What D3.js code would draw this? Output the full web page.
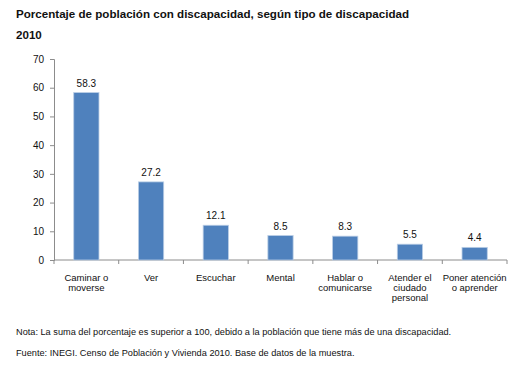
<!DOCTYPE html>
<html>
<head>
<meta charset="utf-8">
<script src="https://cdn.jsdelivr.net/npm/d3@7"></script>
<style>
  body { margin: 0; background: #fff; }
  svg { font-family: "Liberation Sans", Arial, sans-serif; }
</style>
</head>
<body>
<div id="chart"></div>
<script>
// valores
const categorias = [
  ["Caminar o", "moverse"],
  ["Ver"],
  ["Escuchar"],
  ["Mental"],
  ["Hablar o", "comunicarse"],
  ["Atender el", "ciudado", "personal"],
  ["Poner atención", "o aprender"]
];
const valores = [58.3, 27.2, 12.1, 8.5, 8.3, 5.5, 4.4];
const ticksY = [0, 10, 20, 30, 40, 50, 60, 70];

const width = 524, height = 368;
const plotLeft = 54, plotRight = 507, plotTop = 59, plotBottom = 260;

const svg = d3.select("#chart").append("svg")
  .attr("width", width)
  .attr("height", height);

svg.append("text")
  .attr("x", 16).attr("y", 18)
  .attr("font-size", 11.6).attr("font-weight", "bold").attr("fill", "#111")
  .text("Porcentaje de población con discapacidad, según tipo de discapacidad");
svg.append("text")
  .attr("x", 16).attr("y", 39)
  .attr("font-size", 11.6).attr("font-weight", "bold").attr("fill", "#111")
  .text("2010");

const x = d3.scaleBand()
  .domain(d3.range(valores.length))
  .range([plotLeft, plotRight])
  .paddingInner(0.61)
  .paddingOuter(0.305);

const y = d3.scaleLinear().domain([0, 70]).range([plotBottom, plotTop]);

// eje y
const yAxis = svg.append("g")
  .attr("transform", `translate(${plotLeft},0)`)
  .call(d3.axisLeft(y).tickValues(ticksY).tickSize(4).tickPadding(6));
yAxis.select(".domain").attr("stroke", "#8c8c8c");
yAxis.selectAll(".tick line").attr("stroke", "#8c8c8c");
yAxis.selectAll("text").attr("font-size", 10).attr("fill", "#111")
  .attr("font-family", "Liberation Sans, Arial, sans-serif");

// eje x con marcas entre categorías
const xg = svg.append("g");
xg.append("line")
  .attr("x1", plotLeft).attr("x2", plotRight)
  .attr("y1", plotBottom).attr("y2", plotBottom)
  .attr("stroke", "#8c8c8c");
const step = x.step();
xg.selectAll("line.tk")
  .data(d3.range(valores.length + 1))
  .enter().append("line")
  .attr("class", "tk")
  .attr("x1", i => plotLeft + i * step).attr("x2", i => plotLeft + i * step)
  .attr("y1", plotBottom).attr("y2", plotBottom + 4)
  .attr("stroke", "#8c8c8c");

// barras
svg.selectAll("rect.bar")
  .data(valores)
  .enter().append("rect")
  .attr("class", "bar")
  .attr("x", (d, i) => x(i))
  .attr("y", d => y(d))
  .attr("width", x.bandwidth())
  .attr("height", d => plotBottom - y(d))
  .attr("fill", "#4f81bd")
  .attr("stroke", "#b9cde5")
  .attr("stroke-width", 0.8);

// etiquetas de valor
svg.selectAll("text.val")
  .data(valores)
  .enter().append("text")
  .attr("class", "val")
  .attr("x", (d, i) => x(i) + x.bandwidth() / 2)
  .attr("y", d => y(d) - 6)
  .attr("text-anchor", "middle")
  .attr("font-size", 10).attr("fill", "#111")
  .text(d => d.toFixed(1));

// etiquetas de categoría
const cats = svg.selectAll("text.cat")
  .data(categorias)
  .enter().append("text")
  .attr("class", "cat")
  .attr("text-anchor", "middle")
  .attr("font-size", 9.5).attr("fill", "#111");
cats.each(function(lines, i) {
  d3.select(this).selectAll("tspan")
    .data(lines)
    .enter().append("tspan")
    .attr("x", x(i) + x.bandwidth() / 2)
    .attr("y", (l, j) => 281 + j * 10)
    .text(l => l);
});

svg.append("text")
  .attr("x", 16).attr("y", 335)
  .attr("font-size", 9.2).attr("fill", "#111")
  .text("Nota: La suma del porcentaje es superior a 100, debido a la población que tiene más de una discapacidad.");
svg.append("text")
  .attr("x", 16).attr("y", 356)
  .attr("font-size", 9.2).attr("fill", "#111")
  .text("Fuente: INEGI. Censo de Población y Vivienda 2010. Base de datos de la muestra.");
</script>
</body>
</html>
